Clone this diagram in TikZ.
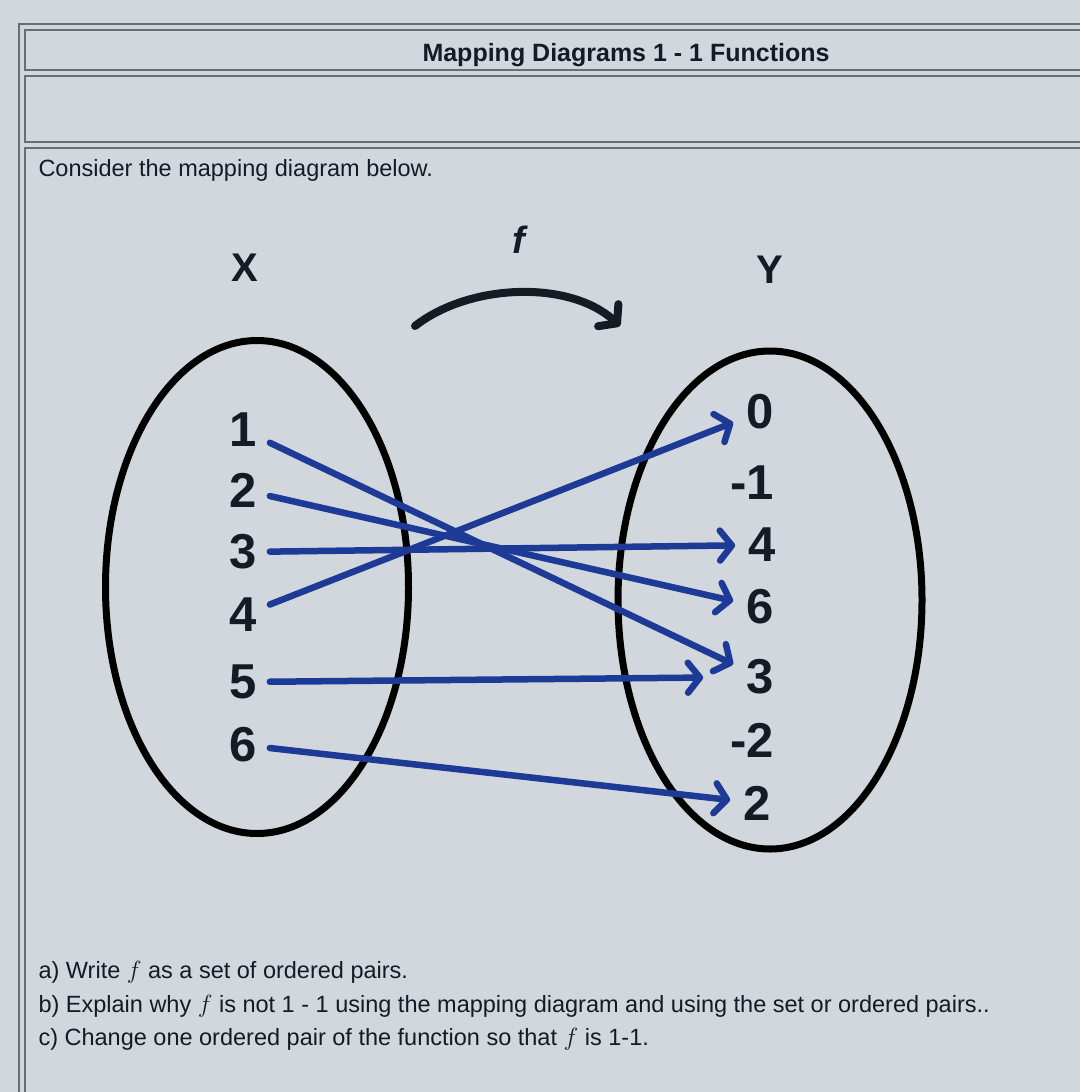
\documentclass[tikz,border=0pt]{standalone}
\usepackage{fontspec}
\setmainfont{Liberation Sans}
\usetikzlibrary{arrows.meta, positioning, shapes.geometric}
\definecolor{screen}{RGB}{210,215,221}
\definecolor{rule}{RGB}{105,110,116}
\definecolor{pen}{RGB}{28,58,150}
\definecolor{ink}{RGB}{22,26,34}

\begin{document}
\begin{tikzpicture}[x=1pt, y=-1pt, >={Straight Barb[length=12pt, width=30pt, round]},
    elem/.style={font=\fontsize{49}{49}\selectfont\bfseries, text=ink, inner sep=13pt},
    mapto/.style={->, pen, line width=6.5pt, line cap=round},
    setline/.style={draw=black, line width=7pt, ellipse, inner sep=0pt},
    body/.style={font=\fontsize{23.5}{23.5}\selectfont, text=ink, anchor=base west}]
    \useasboundingbox (0,0) rectangle (1080,1092);
    \fill[screen] (0,0) rectangle (1080,1092);

    % page frame and table cells
    \draw[rule, line width=2pt] (1080,24) -- (19,24) -- (19,1092);
    \draw[rule, line width=2pt] (1080,30) -- (25,30) -- (25,70) -- (1080,70);
    \draw[rule, line width=2pt] (1080,76) -- (25,76) -- (25,142) -- (1080,142);
    \draw[rule, line width=2pt] (1080,148) -- (25,148) -- (25,1092);

    \node[font=\fontsize{25}{25}\selectfont\bfseries, text=ink] (title) at (626,55) {Mapping Diagrams 1 - 1 Functions};
    \node[body] (intro) at (35,176) {Consider the mapping diagram below.};

    % the two sets
    \node[setline, minimum width=303pt, minimum height=493pt] (setX) at (257,587) {};
    \node[setline, minimum width=304pt, minimum height=498pt] (setY) at (770,600) {};
    \node[font=\fontsize{40}{40}\selectfont\bfseries, text=ink] (nameX) at (245,268) {X};
    \node[font=\fontsize{40}{40}\selectfont\bfseries, text=ink] (nameY) at (770,270) {Y};
    \node[font=\fontsize{38}{38}\selectfont\bfseries\itshape, text=ink] (nameF) at (519,240) {f};

    \coordinate (fstart) at (415,326);
    \coordinate (fend) at (620,326);
    \draw[->, ink, line width=8pt, line cap=round] (fstart) .. controls (470,283) and (570,280) .. (fend);

    % domain
    \node[elem] (x1) at (243,430) {1};
    \node[elem] (x2) at (243,490) {2};
    \node[elem] (x3) at (243,552) {3};
    \node[elem] (x4) at (243,615) {4};
    \node[elem] (x5) at (243,682) {5};
    \node[elem] (x6) at (243,745) {6};

    % range
    \node[elem] (y0) at (760,412) {0};
    \node[elem] (ym1) at (752,483) {-1};
    \node[elem] (y4) at (762,545) {4};
    \node[elem] (y6) at (760,607) {6};
    \node[elem] (y3) at (760,677) {3};
    \node[elem] (ym2) at (752,740) {-2};
    \node[elem] (y2) at (757,803) {2};

    \draw[mapto] (x1) -- (y3);
    \draw[mapto] (x2) -- (y6);
    \draw[mapto] (x3) -- (y4);
    \draw[mapto] (x4) -- (y0);
    \draw[mapto, shorten >=30pt] (x5) -- (y3);
    \draw[mapto] (x6) -- (y2);

    \node[body] (qa) at (35,978) {a) Write $f$ as a set of ordered pairs.};
    \node[body] (qb) at (35,1012) {b) Explain why $f$ is not 1 - 1 using the mapping diagram and using the set or ordered pairs..};
    \node[body] (qc) at (35,1045) {c) Change one ordered pair of the function so that $f$ is 1-1.};
\end{tikzpicture}
\end{document}
